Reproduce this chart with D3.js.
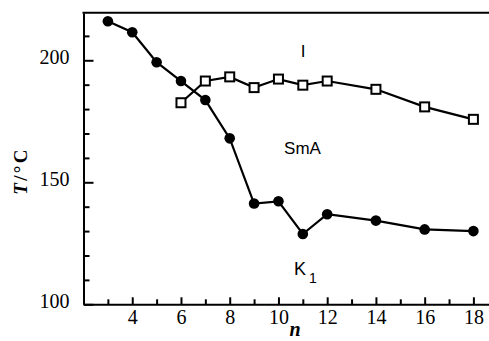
<!DOCTYPE html>
<html>
<head>
<meta charset="utf-8">
<script src="https://cdn.jsdelivr.net/npm/d3@7"></script>
<style>
  html, body { margin: 0; padding: 0; background: #fff; }
  svg { display: block; }
</style>
</head>
<body>
<svg id="chart" width="489" height="341"></svg>
<script>
// Chain length n and phase transition temperatures (°C)
const nCryst = [3, 4, 5, 6, 7, 8, 9, 10, 11, 12, 14, 16, 18];
const tCryst = [216, 211.5, 199.2, 191.5, 183.7, 168, 141.3, 142.2, 128.8, 136.9, 134.3, 130.7, 130];
const nClear = [6, 7, 8, 9, 10, 11, 12, 14, 16, 18];
const tClear = [182.6, 191.5, 193.2, 188.8, 192.3, 189.8, 191.5, 188.1, 180.9, 175.8];
const xMajorTicks = [4, 6, 8, 10, 12, 14, 16, 18];
const xMinorTicks = [3, 5, 7, 9, 11, 13, 15, 17];
const yMajorTicks = [100, 150, 200];
const yMinorTicks = [110, 120, 130, 140, 160, 170, 180, 190, 210];

const svg = d3.select("#chart");
const x = d3.scaleLinear().domain([2, 18.64]).range([83.5, 489]);
const y = d3.scaleLinear().domain([100, 219.5]).range([304.3, 12.7]);

const serif = "'Liberation Serif', 'Times New Roman', serif";
const sans = "'Liberation Sans', Arial, sans-serif";

// Minor ticks (inward)
svg.append("g").attr("transform", `translate(0,${y(100)})`)
  .call(d3.axisBottom(x).tickValues(xMinorTicks).tickSize(-5).tickSizeOuter(0).tickFormat(""))
  .call(g => g.select(".domain").remove())
  .selectAll("line").attr("stroke", "#000").attr("stroke-width", 2);
svg.append("g").attr("transform", `translate(${x(2)},0)`)
  .call(d3.axisLeft(y).tickValues(yMinorTicks).tickSize(-6).tickSizeOuter(0).tickFormat(""))
  .call(g => g.select(".domain").remove())
  .selectAll("line").attr("stroke", "#000").attr("stroke-width", 2);

// Major axes
const xAxis = svg.append("g").attr("transform", `translate(0,${y(100)})`)
  .call(d3.axisBottom(x).tickValues(xMajorTicks).tickSize(-7).tickSizeOuter(0).tickPadding(5.5));
const yAxis = svg.append("g").attr("transform", `translate(${x(2)},0)`)
  .call(d3.axisLeft(y).tickValues(yMajorTicks).tickSize(-10).tickSizeOuter(0).tickPadding(14));
[xAxis, yAxis].forEach(g => {
  g.select(".domain").attr("stroke", "#000").attr("stroke-width", 2);
  g.selectAll(".tick line").attr("stroke", "#000").attr("stroke-width", 2);
  g.selectAll(".tick text").attr("fill", "#000")
    .style("font-family", serif).style("font-size", "20px");
});
yAxis.selectAll(".tick text").attr("dy", "0.15em");

// Top frame line
svg.append("line")
  .attr("x1", x(2) - 1).attr("x2", 489)
  .attr("y1", y(219.5)).attr("y2", y(219.5))
  .attr("stroke", "#000").attr("stroke-width", 2);

// Axis titles
const yt = svg.append("text")
  .attr("transform", `translate(27,171) rotate(-90)`)
  .attr("text-anchor", "middle")
  .style("font-family", serif).style("font-size", "19px").style("font-weight", "bold")
  .style("letter-spacing", "2.3px");
yt.append("tspan").style("font-style", "italic").text("T");
yt.append("tspan").text("/°C");

svg.append("text")
  .attr("x", 295).attr("y", 336)
  .attr("text-anchor", "middle")
  .style("font-family", serif).style("font-size", "20px")
  .style("font-weight", "bold").style("font-style", "italic")
  .text("n");

// Series lines
const crystPts = nCryst.map((n, i) => [n, tCryst[i]]);
const clearPts = nClear.map((n, i) => [n, tClear[i]]);
const line = d3.line().x(d => x(d[0])).y(d => y(d[1]));

svg.append("path").datum(crystPts).attr("d", line)
  .attr("fill", "none").attr("stroke", "#000").attr("stroke-width", 2.2);
svg.append("path").datum(clearPts).attr("d", line)
  .attr("fill", "none").attr("stroke", "#000").attr("stroke-width", 2.2);

// Markers
svg.append("g").selectAll("circle").data(crystPts).join("circle")
  .attr("cx", d => x(d[0])).attr("cy", d => y(d[1])).attr("r", 5.3)
  .attr("fill", "#000");
const s = 9;
svg.append("g").selectAll("rect").data(clearPts).join("rect")
  .attr("x", d => x(d[0]) - s / 2).attr("y", d => y(d[1]) - s / 2)
  .attr("width", s).attr("height", s)
  .attr("fill", "#fff").attr("stroke", "#000").attr("stroke-width", 2);

// Phase labels
svg.append("text").attr("x", 303).attr("y", 56.7).attr("text-anchor", "middle")
  .style("font-family", sans).style("font-size", "17px").text("I");
svg.append("text").attr("x", 302.5).attr("y", 154).attr("text-anchor", "middle")
  .style("font-family", sans).style("font-size", "17px").text("SmA");
const k = svg.append("text").attr("x", 294).attr("y", 275)
  .style("font-family", sans).style("font-size", "18px");
k.append("tspan").text("K");
k.append("tspan").attr("dx", 3).attr("dy", 7.5).style("font-size", "14px").text("1");
</script>
</body>
</html>
